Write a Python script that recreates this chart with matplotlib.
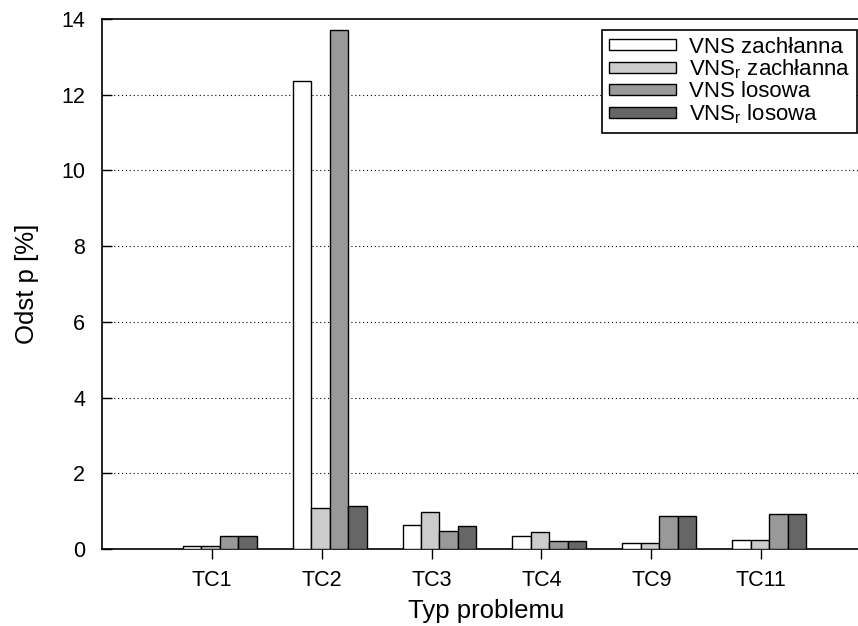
import matplotlib
matplotlib.use("Agg")
import matplotlib.pyplot as plt
import numpy as np

plt.rcParams["font.family"] = ["Liberation Sans", "DejaVu Sans"]
plt.rcParams["mathtext.fontset"] = "custom"
plt.rcParams["mathtext.rm"] = "Liberation Sans"
plt.rcParams["mathtext.it"] = "Liberation Sans"

problems = ["TC1", "TC2", "TC3", "TC4", "TC9", "TC11"]
series_labels = ["VNS zachłanna", "VNS$_\\mathregular{r}$ zachłanna",
                 "VNS losowa", "VNS$_\\mathregular{r}$ losowa"]
vns_greedy = [0.07, 12.35, 0.63, 0.35, 0.17, 0.23]
vnsr_greedy = [0.07, 1.08, 0.98, 0.46, 0.17, 0.23]
vns_random = [0.34, 13.7, 0.47, 0.21, 0.88, 0.92]
vnsr_random = [0.34, 1.13, 0.60, 0.21, 0.88, 0.92]
series = [vns_greedy, vnsr_greedy, vns_random, vnsr_random]
colors = ["#ffffff", "#cccccc", "#999999", "#666666"]
yticks = [0, 2, 4, 6, 8, 10, 12, 14]

W, H = 858, 626
fig = plt.figure(figsize=(W / 100, H / 100), dpi=100)
ax = fig.add_axes([102 / W, 1 - 549 / H, (871 - 102) / W, (549 - 19) / H])

x = np.arange(1, len(problems) + 1)
bw = 0.168
start = -0.264
for i, (vals, col, lab) in enumerate(zip(series, colors, series_labels)):
    ax.bar(x + start + i * bw, vals, width=bw, align="edge", color=col,
           edgecolor="black", linewidth=1.0, label=lab, zorder=3)

ax.set_xlim(0, 7)
ax.set_ylim(0, 14)
ax.set_xticks(x)
ax.set_xticklabels(problems)
ax.set_yticks(yticks)
for yv in yticks[1:-1]:
    ax.axhline(yv, color="black", linestyle=(0, (1, 2.5)), linewidth=0.8, zorder=1)

ax.tick_params(axis="y", direction="in", length=7, width=1, labelsize=15.5, pad=12)
ax.tick_params(axis="x", direction="out", length=7, width=1, labelsize=15.5, pad=8)
for s in ax.spines.values():
    s.set_linewidth(1.2)

ax.set_xlabel("Typ problemu", fontsize=18.5, labelpad=6)
ax.set_ylabel("Odst p [%]", fontsize=18.5, labelpad=16)

leg = ax.legend(loc="upper right", bbox_to_anchor=(857 / W, 1 - 30 / H),
                bbox_transform=fig.transFigure, fontsize=16, frameon=True,
                fancybox=False, edgecolor="black", framealpha=1,
                borderaxespad=0, handlelength=3.0, handleheight=0.4,
                labelspacing=0.0, handletextpad=0.6, borderpad=0.3)
leg.get_frame().set_linewidth(1.2)

fig.savefig("out.png", dpi=100)
